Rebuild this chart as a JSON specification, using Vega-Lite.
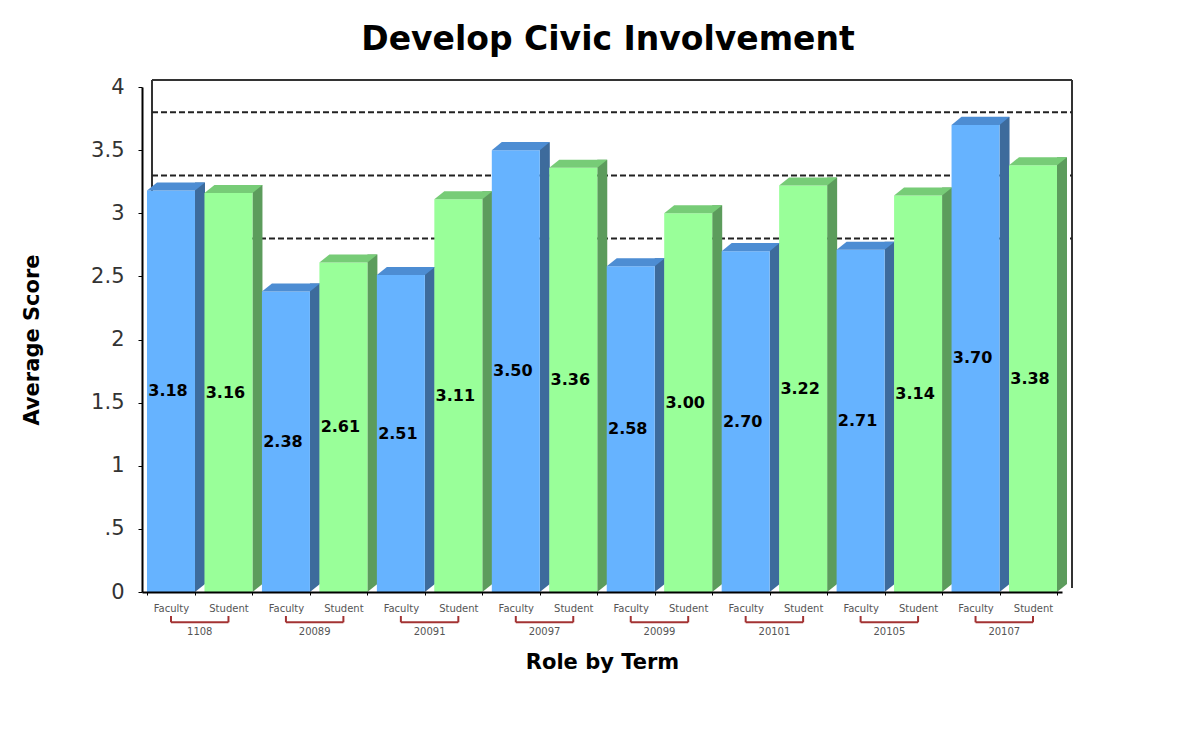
{
  "$schema": "https://vega.github.io/schema/vega-lite/v6.json",
  "width": 920,
  "height": 505,
  "autosize": "none",
  "padding": {"left": 142, "top": 87, "right": 137, "bottom": 157},
  "background": "white",
  "config": {"view": {"stroke": null}, "font": "DejaVu Sans"},
  "title": {"text": "Develop Civic Involvement", "fontSize": 33, "font": "DejaVu Sans", "fontWeight": "bold", "color": "black", "anchor": "middle", "dx": 6, "offset": 19},
  "datasets": {
    "scores": [
      {"term": "1108", "role": "Faculty", "key": "1108|Faculty", "value": 3.18},
      {"term": "1108", "role": "Student", "key": "1108|Student", "value": 3.16},
      {"term": "20089", "role": "Faculty", "key": "20089|Faculty", "value": 2.38},
      {"term": "20089", "role": "Student", "key": "20089|Student", "value": 2.61},
      {"term": "20091", "role": "Faculty", "key": "20091|Faculty", "value": 2.51},
      {"term": "20091", "role": "Student", "key": "20091|Student", "value": 3.11},
      {"term": "20097", "role": "Faculty", "key": "20097|Faculty", "value": 3.50},
      {"term": "20097", "role": "Student", "key": "20097|Student", "value": 3.36},
      {"term": "20099", "role": "Faculty", "key": "20099|Faculty", "value": 2.58},
      {"term": "20099", "role": "Student", "key": "20099|Student", "value": 3.00},
      {"term": "20101", "role": "Faculty", "key": "20101|Faculty", "value": 2.70},
      {"term": "20101", "role": "Student", "key": "20101|Student", "value": 3.22},
      {"term": "20105", "role": "Faculty", "key": "20105|Faculty", "value": 2.71},
      {"term": "20105", "role": "Student", "key": "20105|Student", "value": 3.14},
      {"term": "20107", "role": "Faculty", "key": "20107|Faculty", "value": 3.70},
      {"term": "20107", "role": "Student", "key": "20107|Student", "value": 3.38}
    ],
    "frame": [{"a": "1108|Faculty", "b": "20107|Student"}],
    "targets": [
      {"a": "1108|Faculty", "b": "20107|Student", "t": 2.8},
      {"a": "1108|Faculty", "b": "20107|Student", "t": 3.3},
      {"a": "1108|Faculty", "b": "20107|Student", "t": 3.8}
    ],
    "terms": [
      {"term": "1108", "f": "1108|Faculty", "s": "1108|Student"},
      {"term": "20089", "f": "20089|Faculty", "s": "20089|Student"},
      {"term": "20091", "f": "20091|Faculty", "s": "20091|Student"},
      {"term": "20097", "f": "20097|Faculty", "s": "20097|Student"},
      {"term": "20099", "f": "20099|Faculty", "s": "20099|Student"},
      {"term": "20101", "f": "20101|Faculty", "s": "20101|Student"},
      {"term": "20105", "f": "20105|Faculty", "s": "20105|Student"},
      {"term": "20107", "f": "20107|Faculty", "s": "20107|Student"}
    ]
  },
  "layer": [
    {
      "data": {"name": "frame"},
      "mark": {"type": "rule", "stroke": "#333333", "strokeWidth": 2, "xOffset": 5, "x2Offset": 15, "yOffset": -7},
      "encoding": {
        "x": {"field": "a", "type": "nominal", "bandPosition": 0,
          "scale": {"type": "band", "domain": ["1108|Faculty","1108|Student","20089|Faculty","20089|Student","20091|Faculty","20091|Student","20097|Faculty","20097|Student","20099|Faculty","20099|Student","20101|Faculty","20101|Student","20105|Faculty","20105|Student","20107|Faculty","20107|Student"], "paddingInner": 0.165, "paddingOuter": 0.087},
          "axis": {"title": "Role by Term", "titleFont": "DejaVu Sans", "titleFontSize": 21, "titleFontWeight": "bold", "titleColor": "black", "titlePadding": 38,
            "labelExpr": "split(datum.value, '|')[1]", "labelAngle": 0, "labelFontSize": 10, "labelColor": "#555555", "labelPadding": 8,
            "domainColor": "black", "domainWidth": 2, "ticks": true, "tickBand": "extent", "tickSize": 3, "tickColor": "black", "zindex": 1}},
        "x2": {"field": "b", "bandPosition": 1},
        "y": {"datum": 4, "type": "quantitative",
          "scale": {"domain": [0, 4], "nice": false, "zero": true},
          "axis": {"title": "Average Score", "titleFont": "DejaVu Sans", "titleFontSize": 21, "titleFontWeight": "bold", "titleColor": "black", "titlePadding": 48,
            "values": [0, 0.25, 0.5, 0.75, 1, 1.25, 1.5, 1.75, 2, 2.25, 2.5, 2.75, 3, 3.25, 3.5, 3.75, 4],
            "labelExpr": "datum.value == 0.5 ? '.5' : (datum.value % 0.5 == 0 ? format(datum.value, '~g') : '')",
            "labelFontSize": 21, "labelColor": "#333333", "labelPadding": 14, "tickSize": 4, "tickColor": "black",
            "domainColor": "black", "domainWidth": 2, "grid": false, "zindex": 1}}
      }
    },
    {
      "data": {"name": "frame"},
      "mark": {"type": "rule", "stroke": "#333333", "strokeWidth": 2, "xOffset": 5, "yOffset": -7, "y2Offset": -4},
      "encoding": {
        "x": {"field": "a", "type": "nominal", "bandPosition": 0},
        "y": {"datum": 4},
        "y2": {"datum": 0}
      }
    },
    {
      "data": {"name": "frame"},
      "mark": {"type": "rule", "stroke": "#333333", "strokeWidth": 2, "xOffset": 15, "yOffset": -7, "y2Offset": -4},
      "encoding": {
        "x": {"field": "b", "type": "nominal", "bandPosition": 1},
        "y": {"datum": 4},
        "y2": {"datum": 0}
      }
    },
    {
      "data": {"name": "targets"},
      "mark": {"type": "rule", "strokeDash": [6, 3], "stroke": "#222222", "strokeWidth": 2, "xOffset": 5, "x2Offset": 15},
      "encoding": {
        "x": {"field": "a", "type": "nominal", "bandPosition": 0},
        "x2": {"field": "b", "bandPosition": 1},
        "y": {"field": "t", "type": "quantitative"}
      }
    },
    {
      "data": {"name": "scores"},
      "mark": {"type": "bar", "width": 10, "xOffset": 29, "yOffset": -8, "y2Offset": 0},
      "encoding": {
        "x": {"field": "key", "type": "nominal"},
        "y": {"field": "value", "type": "quantitative", "stack": null},
        "y2": {"datum": 0},
        "color": {"condition": {"test": "datum.role === 'Faculty'", "value": "#3D6B9C"}, "value": "#5C9C5C"}
      }
    },
    {
      "data": {"name": "scores"},
      "mark": {"type": "point", "shape": "M-1,0L1,0L1,-1.6Z", "size": 100, "filled": true, "opacity": 1, "strokeWidth": 0, "xOffset": 29, "color": "white"},
      "encoding": {
        "x": {"field": "key", "type": "nominal"},
        "y": {"datum": 0}
      }
    },
    {
      "data": {"name": "scores"},
      "mark": {"type": "bar"},
      "encoding": {
        "x": {"field": "key", "type": "nominal"},
        "y": {"field": "value", "type": "quantitative", "stack": null},
        "y2": {"datum": 0},
        "color": {"condition": {"test": "datum.role === 'Faculty'", "value": "#66B3FF"}, "value": "#99FF99"}
      }
    },
    {
      "data": {"name": "scores"},
      "mark": {"type": "point", "shape": "M-1,0L0.655,0L1,-0.276L-0.655,-0.276Z", "size": 3364, "filled": true, "opacity": 1, "strokeWidth": 0, "xOffset": 5},
      "encoding": {
        "x": {"field": "key", "type": "nominal"},
        "y": {"field": "value", "type": "quantitative"},
        "color": {"condition": {"test": "datum.role === 'Faculty'", "value": "#4D8DD3"}, "value": "#77CC77"}
      }
    },
    {
      "data": {"name": "scores"},
      "transform": [{"calculate": "datum.value / 2", "as": "mid"}],
      "mark": {"type": "text", "font": "DejaVu Sans", "fontWeight": "bold", "fontSize": 16, "color": "black", "dx": -3, "baseline": "middle"},
      "encoding": {
        "x": {"field": "key", "type": "nominal"},
        "y": {"field": "mid", "type": "quantitative"},
        "text": {"field": "value", "type": "quantitative", "format": ".2f"}
      }
    },
    {
      "data": {"name": "terms"},
      "mark": {"type": "rule", "stroke": "#A33333", "strokeWidth": 2},
      "encoding": {
        "x": {"field": "f", "type": "nominal"},
        "x2": {"field": "s"},
        "y": {"datum": -0.24}
      }
    },
    {
      "data": {"name": "scores"},
      "mark": {"type": "rule", "stroke": "#A33333", "strokeWidth": 2},
      "encoding": {
        "x": {"field": "key", "type": "nominal"},
        "y": {"datum": -0.24},
        "y2": {"datum": -0.19}
      }
    },
    {
      "data": {"name": "terms"},
      "mark": {"type": "text", "fontSize": 10, "color": "#555555", "xOffset": 28.75, "baseline": "middle"},
      "encoding": {
        "x": {"field": "f", "type": "nominal"},
        "y": {"datum": -0.32},
        "text": {"field": "term"}
      }
    }
  ]
}
